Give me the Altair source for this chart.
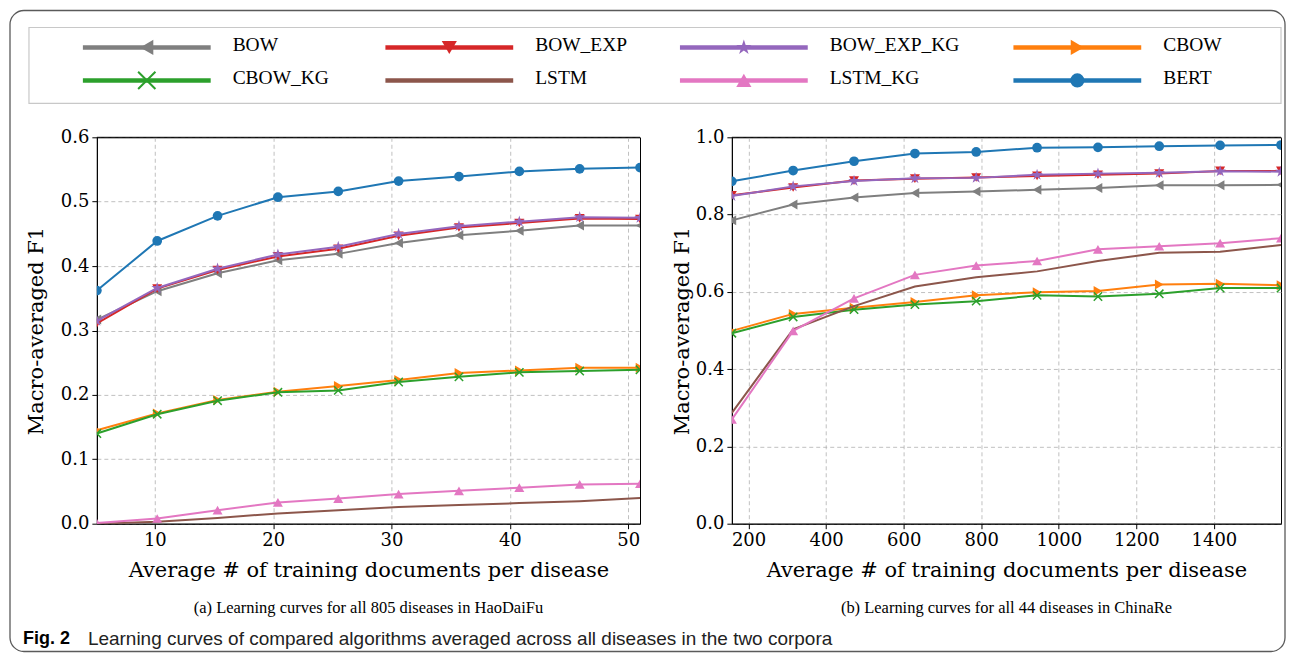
import altair as alt
import pandas as pd

SERIES = ["BOW", "BOW_EXP", "BOW_EXP_KG", "CBOW", "CBOW_KG", "LSTM", "LSTM_KG", "BERT"]
COLORS = ["#7f7f7f", "#d62728", "#9467bd", "#ff7f0e", "#2ca02c", "#8c564b", "#e377c2", "#1f77b4"]

# legend grid (column, row) for each series
LEG_COL = [0, 1, 2, 3, 0, 1, 2, 3]
LEG_ROW = [0, 0, 0, 0, 1, 1, 1, 1]

# ---- panel (a): HaoDaiFu ----
x_a = [5.1, 10.2, 15.3, 20.4, 25.5, 30.6, 35.7, 40.8, 45.9, 51.0]
a_BOW = [0.317, 0.361, 0.389, 0.409, 0.419, 0.436, 0.448, 0.455, 0.463, 0.463]
a_BOW_EXP = [0.311, 0.365, 0.394, 0.415, 0.427, 0.447, 0.460, 0.467, 0.474, 0.473]
a_BOW_EXP_KG = [0.315, 0.366, 0.396, 0.418, 0.430, 0.450, 0.462, 0.469, 0.476, 0.475]
a_CBOW = [0.145, 0.171, 0.192, 0.205, 0.214, 0.223, 0.234, 0.238, 0.242, 0.242]
a_CBOW_KG = [0.140, 0.170, 0.191, 0.204, 0.207, 0.220, 0.228, 0.235, 0.237, 0.239]
a_LSTM = [0.000, 0.003, 0.009, 0.016, 0.021, 0.026, 0.029, 0.032, 0.035, 0.040]
a_LSTM_KG = [0.001, 0.008, 0.021, 0.033, 0.039, 0.046, 0.051, 0.056, 0.061, 0.062]
a_BERT = [0.362, 0.439, 0.478, 0.507, 0.516, 0.532, 0.539, 0.547, 0.551, 0.553]

# ---- panel (b): ChinaRe ----
x_b = [157, 315, 472, 629, 787, 944, 1101, 1259, 1416, 1573]
b_BOW = [0.785, 0.826, 0.844, 0.856, 0.860, 0.864, 0.869, 0.876, 0.876, 0.877]
b_BOW_EXP = [0.850, 0.870, 0.888, 0.893, 0.896, 0.900, 0.903, 0.906, 0.913, 0.913]
b_BOW_EXP_KG = [0.848, 0.873, 0.887, 0.894, 0.895, 0.903, 0.906, 0.908, 0.912, 0.911]
b_CBOW = [0.499, 0.543, 0.559, 0.574, 0.591, 0.599, 0.602, 0.619, 0.621, 0.617]
b_CBOW_KG = [0.493, 0.535, 0.554, 0.567, 0.576, 0.591, 0.588, 0.595, 0.610, 0.610]
b_LSTM = [0.287, 0.503, 0.563, 0.614, 0.638, 0.653, 0.680, 0.701, 0.704, 0.721]
b_LSTM_KG = [0.270, 0.499, 0.583, 0.644, 0.668, 0.680, 0.710, 0.718, 0.726, 0.739]
b_BERT = [0.886, 0.914, 0.938, 0.958, 0.962, 0.973, 0.974, 0.977, 0.979, 0.980]

xticks_a = [10, 20, 30, 40, 50]
yticks_a = [0.0, 0.1, 0.2, 0.3, 0.4, 0.5, 0.6]
xticks_b = [200, 400, 600, 800, 1000, 1200, 1400]
yticks_b = [0.0, 0.2, 0.4, 0.6, 0.8, 1.0]

XTITLE = "Average # of training documents per disease"
YTITLE = "Macro-averaged F1"
CAP_A = "(a) Learning curves for all 805 diseases in HaoDaiFu"
CAP_B = "(b) Learning curves for all 44 diseases in ChinaRe"
FIG_BOLD = "Fig. 2"
FIG_TEXT = "Learning curves of compared algorithms averaged across all diseases in the two corpora"

STAR = ("M0,-1L0.2245,-0.309L0.951,-0.309L0.363,0.118L0.588,0.809L0,0.382"
        "L-0.588,0.809L-0.363,0.118L-0.951,-0.309L-0.2245,-0.309Z")
XMARK = "M-1,-1L1,1M-1,1L1,-1"

# marker style: shape, filled, size in plot, size in legend
MARKERS = {
    "BOW": ("triangle-left", True, 100, 230),
    "BOW_EXP": ("triangle-down", True, 100, 230),
    "BOW_EXP_KG": (STAR, True, 150, 260),
    "CBOW": ("triangle-right", True, 100, 230),
    "CBOW_KG": (XMARK, False, 70, 300),
    "LSTM": None,
    "LSTM_KG": ("triangle-up", True, 100, 230),
    "BERT": ("circle", True, 95, 200),
}

SERIF = "DejaVu Serif"
TEXT_SERIF = "Liberation Serif"
SANS = "Liberation Sans Narrow, Liberation Sans, sans-serif"


def long_df(xs, cols):
    rows = []
    for s in SERIES:
        for xv, yv in zip(xs, cols[s]):
            rows.append({"series": s, "x": xv, "y": yv})
    return pd.DataFrame(rows)


def panel(df, xdom, ydom, xticks, yticks, w, h, ypad, caption, extra=()):
    xenc = alt.X("x:Q", scale=alt.Scale(domain=xdom, nice=False, zero=False),
                 axis=alt.Axis(values=xticks, title=XTITLE, format="d", titlePadding=10))
    yenc = alt.Y("y:Q", scale=alt.Scale(domain=ydom, nice=False, zero=False),
                 axis=alt.Axis(values=yticks, title=YTITLE, format=".1f", titlePadding=ypad))
    layers = []
    for s, c in zip(SERIES, COLORS):
        sub = alt.Chart(df).transform_filter(alt.datum.series == s)
        layers.append(sub.mark_line(color=c, strokeWidth=2, clip=True).encode(x=xenc, y=yenc))
        m = MARKERS[s]
        if m is not None:
            shape, filled, size, _ = m
            if filled:
                mk = sub.mark_point(shape=shape, filled=True, color=c, size=size,
                                    opacity=1, clip=True)
            else:
                mk = sub.mark_point(shape=shape, filled=False, color=c, size=size,
                                    opacity=1, clip=True, strokeWidth=1.5)
            layers.append(mk.encode(x=xenc, y=yenc))
    # solid top spine (over the dashed top gridline)
    top = alt.Chart(pd.DataFrame({"a": [0]})).mark_rule(color="black", strokeWidth=1).encode(
        x=alt.value(0), x2=alt.value(w), y=alt.value(0))
    layers.append(top)
    cap = alt.Chart(pd.DataFrame({"t": [caption]})).mark_text(
        font=TEXT_SERIF, fontSize=16.5, align="center", baseline="middle", color="black"
    ).encode(text="t:N", x=alt.value(w / 2), y=alt.value(471))
    layers.append(cap)
    layers.extend(extra)
    return alt.layer(*layers).properties(width=w, height=h)


df_a = long_df(x_a, {"BOW": a_BOW, "BOW_EXP": a_BOW_EXP, "BOW_EXP_KG": a_BOW_EXP_KG,
                     "CBOW": a_CBOW, "CBOW_KG": a_CBOW_KG, "LSTM": a_LSTM,
                     "LSTM_KG": a_LSTM_KG, "BERT": a_BERT})
df_b = long_df(x_b, {"BOW": b_BOW, "BOW_EXP": b_BOW_EXP, "BOW_EXP_KG": b_BOW_EXP_KG,
                     "CBOW": b_CBOW, "CBOW_KG": b_CBOW_KG, "LSTM": b_LSTM,
                     "LSTM_KG": b_LSTM_KG, "BERT": b_BERT})

one = pd.DataFrame({"a": [0]})
fig_bold = alt.Chart(pd.DataFrame({"t": [FIG_BOLD]})).mark_text(
    font=SANS, fontSize=18, fontWeight="bold", align="left", baseline="middle", color="black"
).encode(text="t:N", x=alt.value(-74), y=alt.value(502))
fig_text = alt.Chart(pd.DataFrame({"t": [FIG_TEXT]})).mark_text(
    font=SANS, fontSize=19, align="left", baseline="middle", color="#222222"
).encode(text="t:N", x=alt.value(-9), y=alt.value(502))

left = panel(df_a, [5.1, 51.0], [0, 0.6], xticks_a, yticks_a, 544, 387, 14, CAP_A,
             extra=(fig_bold, fig_text))
right = panel(df_b, [157, 1573], [0, 1.0], xticks_b, yticks_b, 550, 387, 3, CAP_B)

# ---- legend ----
leg_df = pd.DataFrame({"series": SERIES, "col": LEG_COL, "row": LEG_ROW})
lx = alt.X("col:Q", scale=alt.Scale(domain=[0, 1, 2, 3], range=[-14, 289, 584, 918]), axis=None)
ly = alt.Y("row:Q", scale=alt.Scale(domain=[0, 1], range=[20, 53]), axis=None)
lcolor = alt.Color("series:N", scale=alt.Scale(domain=SERIES, range=COLORS), legend=None)

leg_layers = []
frame = alt.Chart(one).mark_rect(fill="transparent", stroke="#5a5a5a", strokeWidth=1.3,
                                 cornerRadius=14).encode(
    x=alt.value(-87), x2=alt.value(1190), y=alt.value(-17), y2=alt.value(625))
box = alt.Chart(one).mark_rect(fill="transparent", stroke="#c8c8c8", strokeWidth=1.2).encode(
    x=alt.value(-68), x2=alt.value(1186), y=alt.value(0), y2=alt.value(76))
leg_layers += [frame, box]
leg_layers.append(alt.Chart(leg_df).mark_rule(strokeWidth=4.5, x2Offset=128).encode(
    x=lx, x2=alt.X2("col:Q"), y=ly, color=lcolor))
for s in SERIES:
    m = MARKERS[s]
    if m is None:
        continue
    shape, filled, _, lsize = m
    sub = alt.Chart(leg_df).transform_filter(alt.datum.series == s)
    if filled:
        mk = sub.mark_point(shape=shape, filled=True, size=lsize, opacity=1, xOffset=64)
    else:
        mk = sub.mark_point(shape=shape, filled=False, size=lsize, opacity=1, xOffset=64,
                            strokeWidth=2)
    leg_layers.append(mk.encode(x=lx, y=ly, color=lcolor))
leg_layers.append(alt.Chart(leg_df).mark_text(
    font=TEXT_SERIF, fontSize=19.5, align="left", baseline="middle", xOffset=150, dy=-2,
    color="black").encode(x=lx, y=ly, text="series:N"))

legend = alt.layer(*leg_layers).properties(width=1186, height=76,
                                           view=alt.ViewBackground(stroke="transparent"))

chart = alt.vconcat(
    legend,
    alt.hconcat(left, right, spacing=92, bounds="flush"),
    spacing=34, bounds="flush",
).properties(padding=0).configure(font=SERIF).configure_axis(
    labelFont=SERIF, labelFontSize=18, labelColor="black",
    titleFont=SERIF, titleFontSize=21, titleFontWeight="normal", titleColor="black",
    tickColor="black", domainColor="black", tickSize=5, labelPadding=3,
    gridColor="#b0b0b0", gridDash=[4, 3], gridWidth=0.8, domainWidth=1, tickWidth=1,
    labelFlush=False,
).configure_view(stroke="black", strokeWidth=1)

chart.save("out.html", embed_options={"renderer": "svg", "actions": False})
